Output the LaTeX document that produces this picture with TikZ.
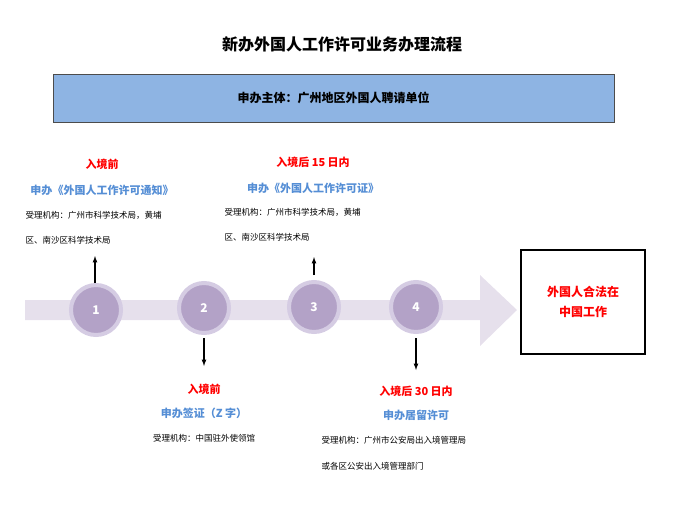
\documentclass[tikz,border=0pt]{standalone}
\usepackage{fontspec}
\setmainfont{Noto Sans CJK SC}
\begin{document}
\begin{tikzpicture}[x=1pt,y=-1pt,
  lblred/.style={text=red,font=\bfseries\fontsize{11}{13}\selectfont},
  lblblu/.style={text=stepblue,font=\bfseries\fontsize{11}{13}\selectfont},
  blk/.style={font=\fontsize{8.5}{10}\selectfont,anchor=west},
  stepc/.style={circle,draw=ringc,line width=4pt,fill=circc,minimum size=50pt,text=white,font=\bfseries\fontsize{12}{14}\selectfont},
  arr/.style={-latex,line width=1.2pt}]
\definecolor{stepblue}{HTML}{558ED5}
\definecolor{ringc}{HTML}{D5CCE3}
\definecolor{circc}{HTML}{B3A2C7}
\definecolor{bodyc}{HTML}{E6E0EC}
\definecolor{boxc}{HTML}{8EB4E3}
\useasboundingbox (0,0) rectangle (685,509);
\fill[bodyc] (25,300) -- (480,300) -- (480,275) -- (517,310) -- (480,346) -- (480,320) -- (25,320) -- cycle;
\node[font=\bfseries\fontsize{16}{18}\selectfont] (title) at (342,44) {新办外国人工作许可业务办理流程};
\node[draw=black!70,fill=boxc,minimum width=561pt,minimum height=48pt,font=\bfseries\fontsize{12}{14}\selectfont] (main) at (333.5,98) {申办主体：广州地区外国人聘请单位};
\node[draw,line width=1.2pt,minimum width=124pt,minimum height=104pt,align=center,text=red,font=\bfseries\fontsize{12}{20}\selectfont] (res) at (583,302) {外国人合法在\\中国工作};
\node[stepc] (s1) at (96,310) {1};
\node[stepc] (s2) at (204,308) {2};
\node[stepc] (s3) at (314,307) {3};
\node[stepc] (s4) at (416,307) {4};
% step 1
\node[lblred] (r1) at (102,164) {入境前};
\node[lblblu] (b1) at (102,190) {申办《外国人工作许可通知》};
\node[blk] (k1a) at (22,215) {受理机构：广州市科学技术局，黄埔};
\node[blk] (k1b) at (22,240) {区、南沙区科学技术局};
\coordinate (t1) at (95,256);
\coordinate (f1) at (95,283);
\draw[arr] (f1) -- (t1);
% step 3
\node[lblred] (r3) at (313,162) {入境后 15 日内};
\node[lblblu] (b3) at (313,188) {申办《外国人工作许可证》};
\node[blk] (k3a) at (221,212) {受理机构：广州市科学技术局，黄埔};
\node[blk] (k3b) at (221,237) {区、南沙区科学技术局};
\coordinate (t3) at (314,257);
\coordinate (f3) at (314,275);
\draw[arr] (f3) -- (t3);
% step 2
\coordinate (f2) at (204,338);
\coordinate (t2) at (204,366);
\draw[arr] (f2) -- (t2);
\node[lblred] (r2) at (204,389) {入境前};
\node[lblblu] (b2) at (204,413) {申办签证（Z 字）};
\node[font=\fontsize{8.5}{10}\selectfont] (k2) at (204,438) {受理机构：中国驻外使领馆};
% step 4
\coordinate (f4) at (416,338);
\coordinate (t4) at (416,370);
\draw[arr] (f4) -- (t4);
\node[lblred] (r4) at (416,391) {入境后 30 日内};
\node[lblblu] (b4) at (416,415) {申办居留许可};
\node[blk] (k4a) at (318,440) {受理机构：广州市公安局出入境管理局};
\node[blk] (k4b) at (318,466) {或各区公安出入境管理部门};
\end{tikzpicture}
\end{document}
